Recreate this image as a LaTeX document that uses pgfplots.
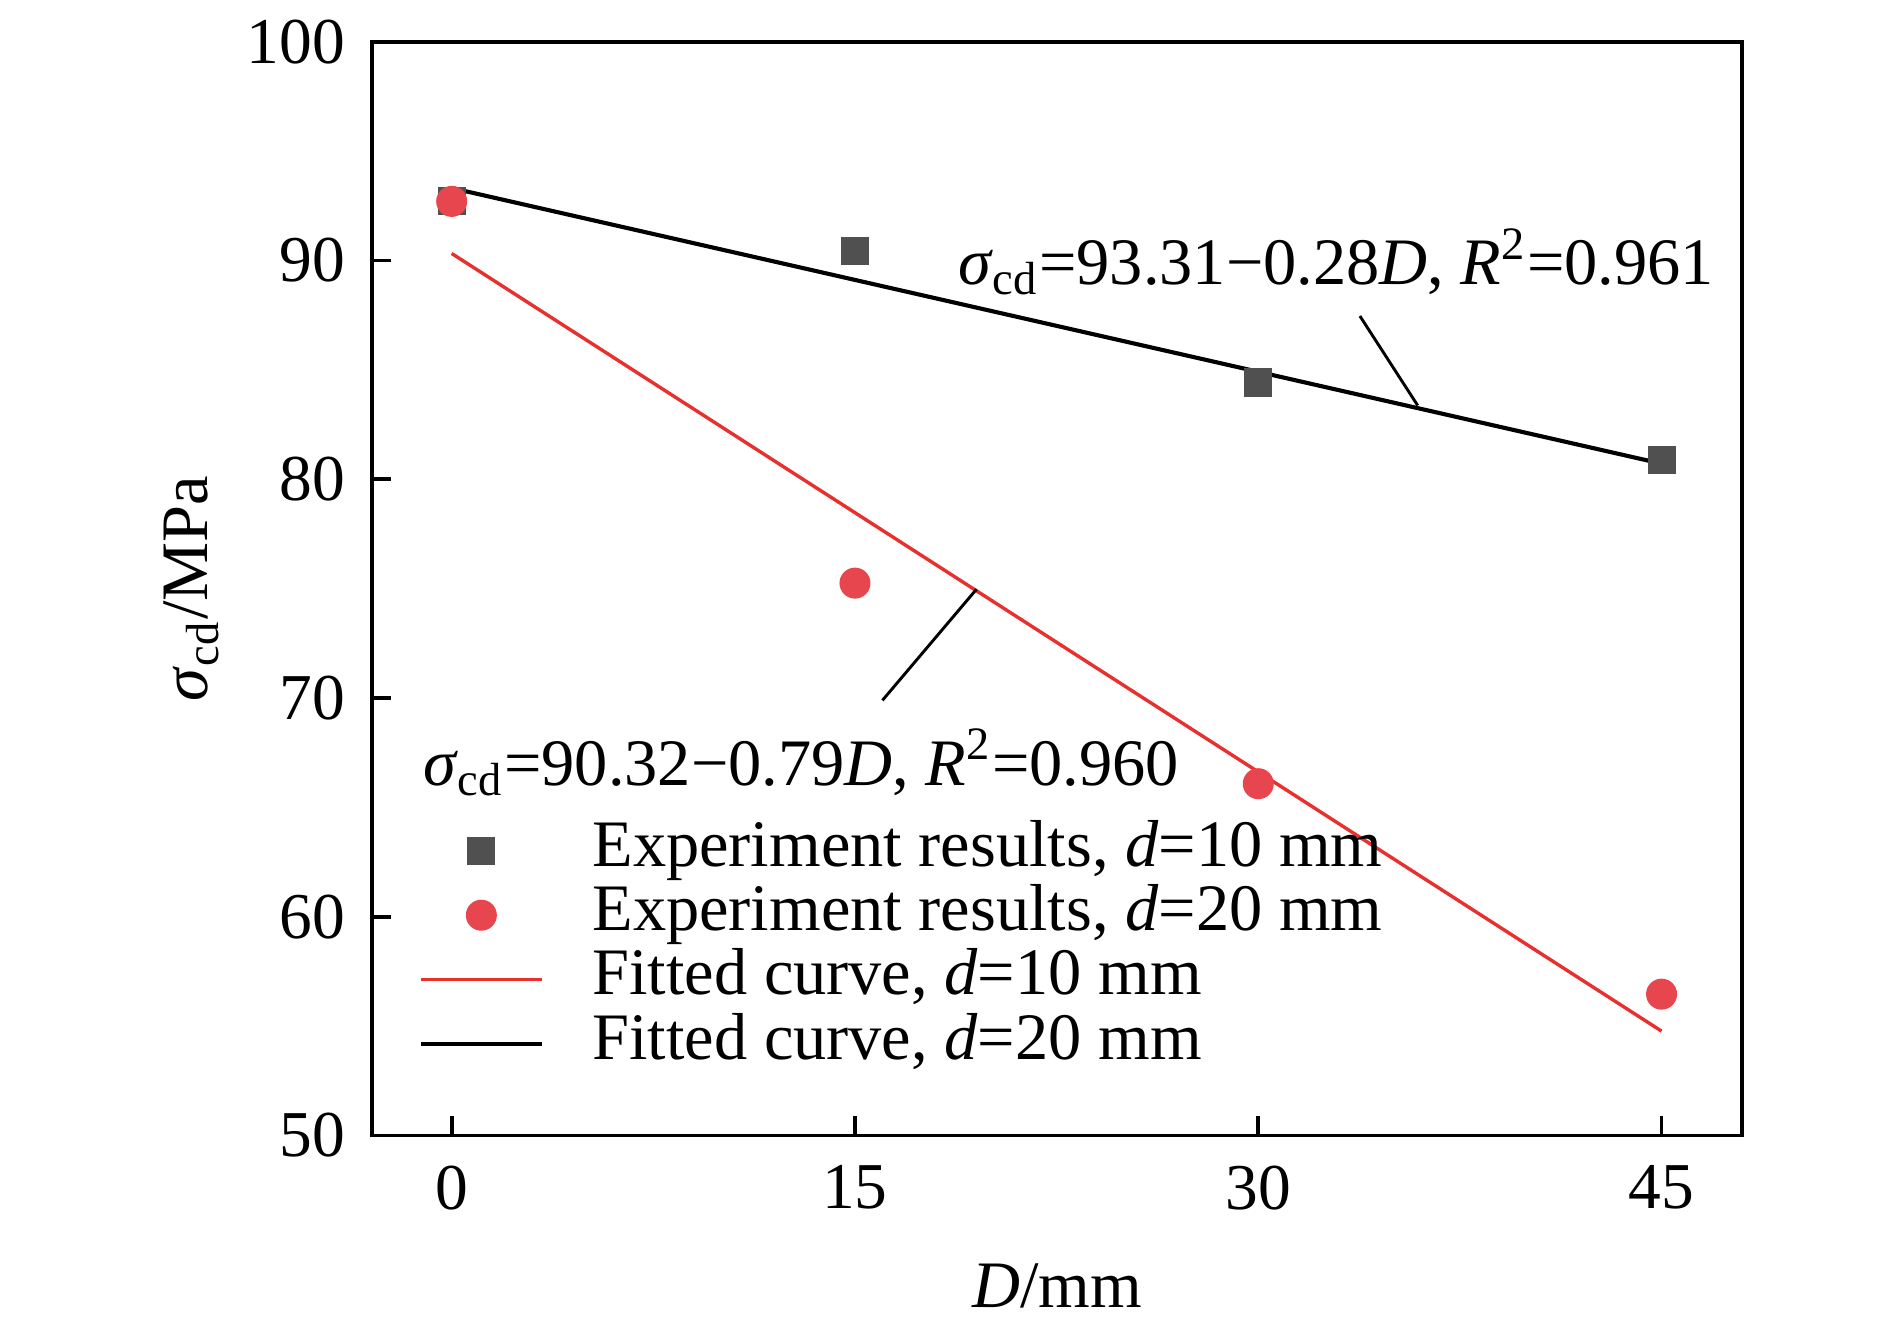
\documentclass[border=0pt]{standalone}
\usepackage{fontspec}
\setmainfont{Liberation Serif}
\usepackage{pgfplots}
\pgfplotsset{compat=1.18}
\definecolor{sqgray}{HTML}{505050}
\definecolor{cred}{HTML}{E8464E}
\definecolor{lred}{HTML}{E8302E}
\pgfplotsset{
  markleg/.style={legend image code/.code={\path[draw=none,fill=none] (0pt,0pt) -- (25pt,0pt); \draw[##1] plot coordinates {(12.5pt,0pt)};}},
  lineleg/.style={legend image code/.code={\draw[##1] (0pt,0pt) -- (25pt,0pt);}},
}
\begin{document}
\fontsize{13.5}{16}\selectfont
\begin{tikzpicture}
\useasboundingbox (0,0) rectangle (390pt,273.2pt);
\begin{axis}[
  at={(76.7pt,38.9pt)}, anchor=south west,
  width=282.8pt, height=225.7pt, scale only axis,
  xmin=-2.975, xmax=48, ymin=50, ymax=100,
  xtick={0,15,30,45}, ytick={50,60,...,100},
  xtick pos=bottom, ytick pos=left, tick align=inside,
  major tick length=4pt,
  axis line style={line width=0.8pt},
  tick style={black, line width=0.8pt},
  /pgf/number format/assume math mode=true,
  ticklabel style={font=\fontsize{13.5}{16}\selectfont},
  xticklabel style={yshift=-1.5pt},
  yticklabel style={xshift=-0.8pt},
  xlabel={\textit{D}/mm},
  ylabel={\textit{σ}\textsubscript{cd}/MPa},
  xlabel style={at={(axis description cs:0.5,0)}, anchor=base, yshift=-35.5pt, font=\fontsize{13.7}{16}\selectfont},
  ylabel style={at={(axis description cs:0,0.5)}, anchor=center, rotate=0, yshift=37.25pt, font=\fontsize{13.7}{16}\selectfont},
  legend cell align=left,
  legend style={draw=none, fill=none, at={(axis description cs:0,0)}, anchor=south west,
    xshift=9.5pt, yshift=12.0pt, inner sep=0pt, column sep=10pt, row sep=0pt,
    font=\fontsize{13.7}{16}\selectfont,
    nodes={inner sep=0pt, text height=9.8pt, text depth=3.5pt}},
]
\addplot[only marks, mark=square*, mark size=2.7pt, color=sqgray, markleg] coordinates {(0,92.7)(15,90.44)(30,84.42)(45,80.88)};
\addlegendentry{Experiment results, \textit{d}=10 mm}
\addplot[only marks, mark=*, mark size=3pt, color=cred, markleg] coordinates {(0,92.7)(15,75.25)(30,66.08)(45,56.46)};
\addlegendentry{Experiment results, \textit{d}=20 mm}
\addplot[lred, line width=0.7pt, lineleg] coordinates {(0,90.32)(45,54.77)};
\addlegendentry{Fitted curve, \textit{d}=10 mm}
\addplot[black, line width=0.85pt, lineleg] coordinates {(0,93.31)(45,80.71)};
\addlegendentry{Fitted curve, \textit{d}=20 mm}
\node[anchor=base west, inner sep=0pt, font=\fontsize{13.7}{16}\selectfont] at (axis cs:18.8,88.9) {\textit{σ}\textsubscript{cd}=93.31−0.28\textit{D}, \textit{R}\textsuperscript{2}=0.961};
\node[anchor=base west, inner sep=0pt, font=\fontsize{13.7}{16}\selectfont] at (axis cs:-1.1,66.02) {\textit{σ}\textsubscript{cd}=90.32−0.79\textit{D}, \textit{R}\textsuperscript{2}=0.960};
\draw[line width=0.6pt] (axis cs:33.78,87.46) -- (axis cs:35.93,83.37);
\draw[line width=0.6pt] (axis cs:19.52,74.97) -- (axis cs:16.02,69.89);
\end{axis}
\end{tikzpicture}
\end{document}
